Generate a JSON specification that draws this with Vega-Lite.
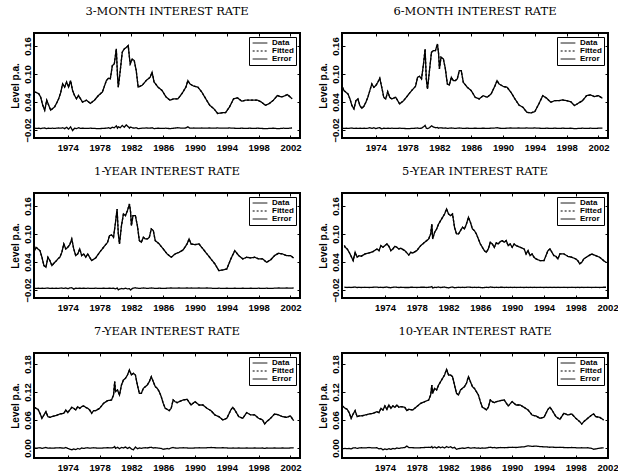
{
  "$schema": "https://vega.github.io/schema/vega-lite/v6.json",
  "padding": {"left": 9, "top": 5, "right": 4, "bottom": 2},
  "background": "white",
  "datasets": {
    "m3": [
      {"t":1969.85,"Data":0.0615,"Fitted":0.0615,"Error":-0.016},
      {"t":1970.1,"Data":0.060,"Fitted":0.060,"Error":-0.0165},
      {"t":1970.35,"Data":0.058,"Fitted":0.058,"Error":-0.016},
      {"t":1970.6,"Data":0.050,"Fitted":0.050,"Error":-0.017},
      {"t":1970.85,"Data":0.033,"Fitted":0.033,"Error":-0.016},
      {"t":1971.1,"Data":0.0225,"Fitted":0.0225,"Error":-0.0155},
      {"t":1971.35,"Data":0.044,"Fitted":0.044,"Error":-0.017},
      {"t":1971.6,"Data":0.033,"Fitted":0.033,"Error":-0.016},
      {"t":1971.85,"Data":0.0225,"Fitted":0.0225,"Error":-0.0165},
      {"t":1972.1,"Data":0.026,"Fitted":0.026,"Error":-0.016},
      {"t":1972.35,"Data":0.030,"Fitted":0.030,"Error":-0.0165},
      {"t":1972.6,"Data":0.038,"Fitted":0.038,"Error":-0.016},
      {"t":1972.85,"Data":0.047,"Fitted":0.047,"Error":-0.0155},
      {"t":1973.1,"Data":0.060,"Fitted":0.060,"Error":-0.016},
      {"t":1973.35,"Data":0.079,"Fitted":0.079,"Error":-0.015},
      {"t":1973.6,"Data":0.072,"Fitted":0.072,"Error":-0.017},
      {"t":1973.85,"Data":0.083,"Fitted":0.083,"Error":-0.014},
      {"t":1974.1,"Data":0.072,"Fitted":0.072,"Error":-0.018},
      {"t":1974.35,"Data":0.086,"Fitted":0.086,"Error":-0.013},
      {"t":1974.6,"Data":0.065,"Fitted":0.065,"Error":-0.021},
      {"t":1974.85,"Data":0.054,"Fitted":0.054,"Error":-0.016},
      {"t":1975.1,"Data":0.047,"Fitted":0.047,"Error":-0.017},
      {"t":1975.35,"Data":0.054,"Fitted":0.054,"Error":-0.015},
      {"t":1975.6,"Data":0.047,"Fitted":0.047,"Error":-0.0165},
      {"t":1975.85,"Data":0.040,"Fitted":0.040,"Error":-0.016},
      {"t":1976.35,"Data":0.044,"Fitted":0.044,"Error":-0.0165},
      {"t":1976.85,"Data":0.037,"Fitted":0.037,"Error":-0.016},
      {"t":1977.35,"Data":0.044,"Fitted":0.044,"Error":-0.0165},
      {"t":1977.85,"Data":0.054,"Fitted":0.054,"Error":-0.017},
      {"t":1978.35,"Data":0.0615,"Fitted":0.0615,"Error":-0.0165},
      {"t":1978.85,"Data":0.086,"Fitted":0.086,"Error":-0.016},
      {"t":1979.1,"Data":0.091,"Fitted":0.091,"Error":-0.015},
      {"t":1979.35,"Data":0.090,"Fitted":0.090,"Error":-0.0165},
      {"t":1979.6,"Data":0.118,"Fitted":0.118,"Error":-0.014},
      {"t":1979.85,"Data":0.122,"Fitted":0.122,"Error":-0.015},
      {"t":1980.1,"Data":0.154,"Fitted":0.154,"Error":-0.011},
      {"t":1980.25,"Data":0.097,"Fitted":0.097,"Error":-0.016},
      {"t":1980.35,"Data":0.072,"Fitted":0.072,"Error":-0.013},
      {"t":1980.6,"Data":0.108,"Fitted":0.108,"Error":-0.015},
      {"t":1980.85,"Data":0.147,"Fitted":0.147,"Error":-0.010},
      {"t":1981.1,"Data":0.154,"Fitted":0.154,"Error":-0.014},
      {"t":1981.35,"Data":0.157,"Fitted":0.157,"Error":-0.009},
      {"t":1981.6,"Data":0.161,"Fitted":0.161,"Error":-0.013},
      {"t":1981.75,"Data":0.136,"Fitted":0.136,"Error":-0.016},
      {"t":1981.85,"Data":0.122,"Fitted":0.122,"Error":-0.0135},
      {"t":1982.1,"Data":0.132,"Fitted":0.132,"Error":-0.015},
      {"t":1982.35,"Data":0.129,"Fitted":0.129,"Error":-0.016},
      {"t":1982.6,"Data":0.108,"Fitted":0.108,"Error":-0.015},
      {"t":1982.85,"Data":0.072,"Fitted":0.072,"Error":-0.017},
      {"t":1983.35,"Data":0.076,"Fitted":0.076,"Error":-0.016},
      {"t":1983.85,"Data":0.086,"Fitted":0.086,"Error":-0.0155},
      {"t":1984.35,"Data":0.093,"Fitted":0.093,"Error":-0.016},
      {"t":1984.6,"Data":0.104,"Fitted":0.104,"Error":-0.015},
      {"t":1984.85,"Data":0.083,"Fitted":0.083,"Error":-0.017},
      {"t":1985.35,"Data":0.072,"Fitted":0.072,"Error":-0.016},
      {"t":1985.85,"Data":0.065,"Fitted":0.065,"Error":-0.0165},
      {"t":1986.35,"Data":0.051,"Fitted":0.051,"Error":-0.016},
      {"t":1986.85,"Data":0.044,"Fitted":0.044,"Error":-0.017},
      {"t":1987.35,"Data":0.047,"Fitted":0.047,"Error":-0.016},
      {"t":1987.85,"Data":0.047,"Fitted":0.047,"Error":-0.015},
      {"t":1988.35,"Data":0.058,"Fitted":0.058,"Error":-0.016},
      {"t":1988.85,"Data":0.072,"Fitted":0.072,"Error":-0.0155},
      {"t":1989.1,"Data":0.086,"Fitted":0.086,"Error":-0.013},
      {"t":1989.35,"Data":0.079,"Fitted":0.079,"Error":-0.016},
      {"t":1989.85,"Data":0.074,"Fitted":0.074,"Error":-0.0155},
      {"t":1990.35,"Data":0.072,"Fitted":0.072,"Error":-0.016},
      {"t":1990.85,"Data":0.0615,"Fitted":0.0615,"Error":-0.0155},
      {"t":1991.35,"Data":0.047,"Fitted":0.047,"Error":-0.016},
      {"t":1991.85,"Data":0.033,"Fitted":0.033,"Error":-0.0155},
      {"t":1992.35,"Data":0.026,"Fitted":0.026,"Error":-0.016},
      {"t":1992.85,"Data":0.0155,"Fitted":0.0155,"Error":-0.0155},
      {"t":1993.35,"Data":0.017,"Fitted":0.017,"Error":-0.016},
      {"t":1993.85,"Data":0.0175,"Fitted":0.0175,"Error":-0.016},
      {"t":1994.35,"Data":0.030,"Fitted":0.030,"Error":-0.0155},
      {"t":1994.85,"Data":0.047,"Fitted":0.047,"Error":-0.016},
      {"t":1995.35,"Data":0.049,"Fitted":0.049,"Error":-0.0165},
      {"t":1995.85,"Data":0.042,"Fitted":0.042,"Error":-0.016},
      {"t":1996.35,"Data":0.044,"Fitted":0.044,"Error":-0.0165},
      {"t":1996.85,"Data":0.044,"Fitted":0.044,"Error":-0.016},
      {"t":1997.35,"Data":0.044,"Fitted":0.044,"Error":-0.0165},
      {"t":1997.85,"Data":0.044,"Fitted":0.044,"Error":-0.016},
      {"t":1998.35,"Data":0.040,"Fitted":0.040,"Error":-0.0165},
      {"t":1998.85,"Data":0.033,"Fitted":0.033,"Error":-0.017},
      {"t":1999.35,"Data":0.037,"Fitted":0.037,"Error":-0.0165},
      {"t":1999.85,"Data":0.044,"Fitted":0.044,"Error":-0.016},
      {"t":2000.35,"Data":0.054,"Fitted":0.054,"Error":-0.017},
      {"t":2000.85,"Data":0.051,"Fitted":0.051,"Error":-0.0165},
      {"t":2001.1,"Data":0.052,"Fitted":0.052,"Error":-0.016},
      {"t":2001.6,"Data":0.056,"Fitted":0.056,"Error":-0.0165},
      {"t":2001.9,"Data":0.052,"Fitted":0.052,"Error":-0.016},
      {"t":2002.2,"Data":0.047,"Fitted":0.047,"Error":-0.0155}
    ],
    "m6": [
      {"t":1969.8,"Data":0.072,"Fitted":0.072,"Error":-0.016},
      {"t":1970.0,"Data":0.0645,"Fitted":0.0645,"Error":-0.0165},
      {"t":1970.25,"Data":0.061,"Fitted":0.061,"Error":-0.016},
      {"t":1970.5,"Data":0.0574,"Fitted":0.0574,"Error":-0.0165},
      {"t":1970.75,"Data":0.0467,"Fitted":0.0467,"Error":-0.016},
      {"t":1971.0,"Data":0.0324,"Fitted":0.0324,"Error":-0.0155},
      {"t":1971.25,"Data":0.0253,"Fitted":0.0253,"Error":-0.0165},
      {"t":1971.5,"Data":0.043,"Fitted":0.043,"Error":-0.016},
      {"t":1971.75,"Data":0.0467,"Fitted":0.0467,"Error":-0.0165},
      {"t":1972.0,"Data":0.0324,"Fitted":0.0324,"Error":-0.016},
      {"t":1972.25,"Data":0.0267,"Fitted":0.0267,"Error":-0.0165},
      {"t":1972.5,"Data":0.031,"Fitted":0.031,"Error":-0.016},
      {"t":1972.75,"Data":0.0396,"Fitted":0.0396,"Error":-0.0165},
      {"t":1973.0,"Data":0.0503,"Fitted":0.0503,"Error":-0.016},
      {"t":1973.25,"Data":0.0645,"Fitted":0.0645,"Error":-0.015},
      {"t":1973.5,"Data":0.0788,"Fitted":0.0788,"Error":-0.0165},
      {"t":1973.75,"Data":0.0717,"Fitted":0.0717,"Error":-0.015},
      {"t":1974.0,"Data":0.0753,"Fitted":0.0753,"Error":-0.017},
      {"t":1974.25,"Data":0.0824,"Fitted":0.0824,"Error":-0.0155},
      {"t":1974.5,"Data":0.091,"Fitted":0.091,"Error":-0.015},
      {"t":1974.75,"Data":0.0717,"Fitted":0.0717,"Error":-0.0175},
      {"t":1975.0,"Data":0.0503,"Fitted":0.0503,"Error":-0.016},
      {"t":1975.25,"Data":0.0467,"Fitted":0.0467,"Error":-0.0165},
      {"t":1975.5,"Data":0.0624,"Fitted":0.0624,"Error":-0.016},
      {"t":1975.75,"Data":0.0503,"Fitted":0.0503,"Error":-0.0165},
      {"t":1976.0,"Data":0.0467,"Fitted":0.0467,"Error":-0.016},
      {"t":1976.5,"Data":0.0503,"Fitted":0.0503,"Error":-0.0165},
      {"t":1977.0,"Data":0.036,"Fitted":0.036,"Error":-0.016},
      {"t":1977.5,"Data":0.043,"Fitted":0.043,"Error":-0.0165},
      {"t":1978.0,"Data":0.0538,"Fitted":0.0538,"Error":-0.017},
      {"t":1978.5,"Data":0.0645,"Fitted":0.0645,"Error":-0.0165},
      {"t":1979.0,"Data":0.0738,"Fitted":0.0738,"Error":-0.016},
      {"t":1979.25,"Data":0.0931,"Fitted":0.0931,"Error":-0.0155},
      {"t":1979.5,"Data":0.0953,"Fitted":0.0953,"Error":-0.0165},
      {"t":1979.75,"Data":0.0896,"Fitted":0.0896,"Error":-0.016},
      {"t":1980.0,"Data":0.1217,"Fitted":0.1217,"Error":-0.013},
      {"t":1980.2,"Data":0.1538,"Fitted":0.1538,"Error":-0.010},
      {"t":1980.35,"Data":0.0896,"Fitted":0.0896,"Error":-0.016},
      {"t":1980.5,"Data":0.0681,"Fitted":0.0681,"Error":-0.017},
      {"t":1980.75,"Data":0.1074,"Fitted":0.1074,"Error":-0.015},
      {"t":1981.0,"Data":0.1467,"Fitted":0.1467,"Error":-0.011},
      {"t":1981.25,"Data":0.1502,"Fitted":0.1502,"Error":-0.0135},
      {"t":1981.5,"Data":0.1502,"Fitted":0.1502,"Error":-0.015},
      {"t":1981.75,"Data":0.1645,"Fitted":0.1645,"Error":-0.0145},
      {"t":1981.9,"Data":0.1431,"Fitted":0.1431,"Error":-0.016},
      {"t":1982.0,"Data":0.111,"Fitted":0.111,"Error":-0.0155},
      {"t":1982.2,"Data":0.136,"Fitted":0.136,"Error":-0.015},
      {"t":1982.5,"Data":0.1324,"Fitted":0.1324,"Error":-0.016},
      {"t":1982.75,"Data":0.111,"Fitted":0.111,"Error":-0.0155},
      {"t":1983.0,"Data":0.0788,"Fitted":0.0788,"Error":-0.0165},
      {"t":1983.25,"Data":0.0767,"Fitted":0.0767,"Error":-0.016},
      {"t":1983.5,"Data":0.0931,"Fitted":0.0931,"Error":-0.0155},
      {"t":1983.75,"Data":0.086,"Fitted":0.086,"Error":-0.016},
      {"t":1984.0,"Data":0.086,"Fitted":0.086,"Error":-0.0165},
      {"t":1984.25,"Data":0.0896,"Fitted":0.0896,"Error":-0.016},
      {"t":1984.5,"Data":0.1074,"Fitted":0.1074,"Error":-0.0155},
      {"t":1984.75,"Data":0.1074,"Fitted":0.1074,"Error":-0.016},
      {"t":1985.0,"Data":0.0824,"Fitted":0.0824,"Error":-0.0165},
      {"t":1985.5,"Data":0.0717,"Fitted":0.0717,"Error":-0.016},
      {"t":1986.0,"Data":0.0645,"Fitted":0.0645,"Error":-0.0165},
      {"t":1986.5,"Data":0.0503,"Fitted":0.0503,"Error":-0.016},
      {"t":1987.0,"Data":0.0467,"Fitted":0.0467,"Error":-0.0165},
      {"t":1987.5,"Data":0.0538,"Fitted":0.0538,"Error":-0.016},
      {"t":1988.0,"Data":0.0503,"Fitted":0.0503,"Error":-0.0165},
      {"t":1988.5,"Data":0.0574,"Fitted":0.0574,"Error":-0.016},
      {"t":1989.0,"Data":0.0753,"Fitted":0.0753,"Error":-0.0155},
      {"t":1989.25,"Data":0.086,"Fitted":0.086,"Error":-0.015},
      {"t":1989.5,"Data":0.0788,"Fitted":0.0788,"Error":-0.016},
      {"t":1990.0,"Data":0.0738,"Fitted":0.0738,"Error":-0.0165},
      {"t":1990.5,"Data":0.0717,"Fitted":0.0717,"Error":-0.016},
      {"t":1991.0,"Data":0.061,"Fitted":0.061,"Error":-0.0155},
      {"t":1991.5,"Data":0.0467,"Fitted":0.0467,"Error":-0.016},
      {"t":1992.0,"Data":0.0338,"Fitted":0.0338,"Error":-0.0155},
      {"t":1992.5,"Data":0.0289,"Fitted":0.0289,"Error":-0.016},
      {"t":1993.0,"Data":0.0181,"Fitted":0.0181,"Error":-0.0155},
      {"t":1993.5,"Data":0.0167,"Fitted":0.0167,"Error":-0.016},
      {"t":1994.0,"Data":0.0196,"Fitted":0.0196,"Error":-0.0155},
      {"t":1994.5,"Data":0.036,"Fitted":0.036,"Error":-0.016},
      {"t":1995.0,"Data":0.0538,"Fitted":0.0538,"Error":-0.0165},
      {"t":1995.5,"Data":0.0481,"Fitted":0.0481,"Error":-0.016},
      {"t":1996.0,"Data":0.0396,"Fitted":0.0396,"Error":-0.0165},
      {"t":1996.5,"Data":0.043,"Fitted":0.043,"Error":-0.016},
      {"t":1997.0,"Data":0.043,"Fitted":0.043,"Error":-0.0165},
      {"t":1997.5,"Data":0.0445,"Fitted":0.0445,"Error":-0.016},
      {"t":1998.0,"Data":0.043,"Fitted":0.043,"Error":-0.0165},
      {"t":1998.5,"Data":0.041,"Fitted":0.041,"Error":-0.016},
      {"t":1999.0,"Data":0.0324,"Fitted":0.0324,"Error":-0.017},
      {"t":1999.5,"Data":0.038,"Fitted":0.038,"Error":-0.0165},
      {"t":2000.0,"Data":0.043,"Fitted":0.043,"Error":-0.016},
      {"t":2000.5,"Data":0.0538,"Fitted":0.0538,"Error":-0.0165},
      {"t":2001.0,"Data":0.0553,"Fitted":0.0553,"Error":-0.016},
      {"t":2001.5,"Data":0.0517,"Fitted":0.0517,"Error":-0.0165},
      {"t":2002.0,"Data":0.0538,"Fitted":0.0538,"Error":-0.016},
      {"t":2002.5,"Data":0.0481,"Fitted":0.0481,"Error":-0.016}
    ],
    "y1": [
      {"t":1969.8,"Data":0.0645,"Fitted":0.0645,"Error":-0.016},
      {"t":1970.0,"Data":0.0717,"Fitted":0.0717,"Error":-0.0165},
      {"t":1970.25,"Data":0.0681,"Fitted":0.0681,"Error":-0.016},
      {"t":1970.5,"Data":0.0645,"Fitted":0.0645,"Error":-0.0165},
      {"t":1970.75,"Data":0.0503,"Fitted":0.0503,"Error":-0.016},
      {"t":1971.0,"Data":0.0324,"Fitted":0.0324,"Error":-0.0165},
      {"t":1971.25,"Data":0.0288,"Fitted":0.0288,"Error":-0.016},
      {"t":1971.5,"Data":0.0503,"Fitted":0.0503,"Error":-0.0155},
      {"t":1971.75,"Data":0.0431,"Fitted":0.0431,"Error":-0.0165},
      {"t":1972.0,"Data":0.0324,"Fitted":0.0324,"Error":-0.016},
      {"t":1972.25,"Data":0.0374,"Fitted":0.0374,"Error":-0.0165},
      {"t":1972.5,"Data":0.0417,"Fitted":0.0417,"Error":-0.016},
      {"t":1972.75,"Data":0.0467,"Fitted":0.0467,"Error":-0.0165},
      {"t":1973.0,"Data":0.0503,"Fitted":0.0503,"Error":-0.016},
      {"t":1973.25,"Data":0.061,"Fitted":0.061,"Error":-0.0155},
      {"t":1973.5,"Data":0.0788,"Fitted":0.0788,"Error":-0.0165},
      {"t":1973.75,"Data":0.0681,"Fitted":0.0681,"Error":-0.0155},
      {"t":1974.0,"Data":0.0717,"Fitted":0.0717,"Error":-0.017},
      {"t":1974.25,"Data":0.0774,"Fitted":0.0774,"Error":-0.0155},
      {"t":1974.5,"Data":0.0895,"Fitted":0.0895,"Error":-0.015},
      {"t":1974.75,"Data":0.0681,"Fitted":0.0681,"Error":-0.018},
      {"t":1975.0,"Data":0.0538,"Fitted":0.0538,"Error":-0.016},
      {"t":1975.25,"Data":0.0574,"Fitted":0.0574,"Error":-0.0165},
      {"t":1975.5,"Data":0.0681,"Fitted":0.0681,"Error":-0.016},
      {"t":1975.75,"Data":0.0538,"Fitted":0.0538,"Error":-0.0165},
      {"t":1976.0,"Data":0.0574,"Fitted":0.0574,"Error":-0.016},
      {"t":1976.25,"Data":0.0503,"Fitted":0.0503,"Error":-0.0165},
      {"t":1976.5,"Data":0.0574,"Fitted":0.0574,"Error":-0.016},
      {"t":1977.0,"Data":0.0431,"Fitted":0.0431,"Error":-0.0165},
      {"t":1977.5,"Data":0.0488,"Fitted":0.0488,"Error":-0.016},
      {"t":1978.0,"Data":0.061,"Fitted":0.061,"Error":-0.0165},
      {"t":1978.5,"Data":0.0717,"Fitted":0.0717,"Error":-0.016},
      {"t":1979.0,"Data":0.0824,"Fitted":0.0824,"Error":-0.0165},
      {"t":1979.25,"Data":0.0967,"Fitted":0.0967,"Error":-0.016},
      {"t":1979.5,"Data":0.0981,"Fitted":0.0981,"Error":-0.0165},
      {"t":1979.75,"Data":0.0931,"Fitted":0.0931,"Error":-0.016},
      {"t":1980.0,"Data":0.1252,"Fitted":0.1252,"Error":-0.0175},
      {"t":1980.2,"Data":0.1538,"Fitted":0.1538,"Error":-0.0155},
      {"t":1980.35,"Data":0.1002,"Fitted":0.1002,"Error":-0.0195},
      {"t":1980.5,"Data":0.0788,"Fitted":0.0788,"Error":-0.018},
      {"t":1980.75,"Data":0.1181,"Fitted":0.1181,"Error":-0.0165},
      {"t":1981.0,"Data":0.1431,"Fitted":0.1431,"Error":-0.0175},
      {"t":1981.25,"Data":0.1395,"Fitted":0.1395,"Error":-0.016},
      {"t":1981.5,"Data":0.1502,"Fitted":0.1502,"Error":-0.0175},
      {"t":1981.75,"Data":0.1645,"Fitted":0.1645,"Error":-0.017},
      {"t":1981.9,"Data":0.1466,"Fitted":0.1466,"Error":-0.020},
      {"t":1982.0,"Data":0.1181,"Fitted":0.1181,"Error":-0.018},
      {"t":1982.2,"Data":0.1395,"Fitted":0.1395,"Error":-0.016},
      {"t":1982.5,"Data":0.1395,"Fitted":0.1395,"Error":-0.015},
      {"t":1982.75,"Data":0.1181,"Fitted":0.1181,"Error":-0.016},
      {"t":1983.0,"Data":0.0859,"Fitted":0.0859,"Error":-0.0165},
      {"t":1983.25,"Data":0.0824,"Fitted":0.0824,"Error":-0.016},
      {"t":1983.5,"Data":0.0931,"Fitted":0.0931,"Error":-0.0155},
      {"t":1983.75,"Data":0.0895,"Fitted":0.0895,"Error":-0.016},
      {"t":1984.0,"Data":0.0895,"Fitted":0.0895,"Error":-0.0165},
      {"t":1984.25,"Data":0.0931,"Fitted":0.0931,"Error":-0.016},
      {"t":1984.5,"Data":0.111,"Fitted":0.111,"Error":-0.0155},
      {"t":1984.75,"Data":0.1074,"Fitted":0.1074,"Error":-0.016},
      {"t":1985.0,"Data":0.0859,"Fitted":0.0859,"Error":-0.0165},
      {"t":1985.5,"Data":0.0788,"Fitted":0.0788,"Error":-0.016},
      {"t":1986.0,"Data":0.0681,"Fitted":0.0681,"Error":-0.0165},
      {"t":1986.5,"Data":0.0574,"Fitted":0.0574,"Error":-0.016},
      {"t":1987.0,"Data":0.0503,"Fitted":0.0503,"Error":-0.0155},
      {"t":1987.5,"Data":0.0574,"Fitted":0.0574,"Error":-0.016},
      {"t":1988.0,"Data":0.061,"Fitted":0.061,"Error":-0.0155},
      {"t":1988.5,"Data":0.066,"Fitted":0.066,"Error":-0.016},
      {"t":1989.0,"Data":0.0788,"Fitted":0.0788,"Error":-0.0155},
      {"t":1989.25,"Data":0.0895,"Fitted":0.0895,"Error":-0.016},
      {"t":1989.5,"Data":0.0788,"Fitted":0.0788,"Error":-0.0155},
      {"t":1990.0,"Data":0.0774,"Fitted":0.0774,"Error":-0.016},
      {"t":1990.5,"Data":0.0788,"Fitted":0.0788,"Error":-0.0155},
      {"t":1991.0,"Data":0.0681,"Fitted":0.0681,"Error":-0.016},
      {"t":1991.5,"Data":0.0574,"Fitted":0.0574,"Error":-0.0155},
      {"t":1992.0,"Data":0.0467,"Fitted":0.0467,"Error":-0.016},
      {"t":1992.5,"Data":0.036,"Fitted":0.036,"Error":-0.0165},
      {"t":1993.0,"Data":0.0217,"Fitted":0.0217,"Error":-0.016},
      {"t":1993.5,"Data":0.0231,"Fitted":0.0231,"Error":-0.0165},
      {"t":1994.0,"Data":0.0253,"Fitted":0.0253,"Error":-0.016},
      {"t":1994.5,"Data":0.0467,"Fitted":0.0467,"Error":-0.0165},
      {"t":1995.0,"Data":0.0645,"Fitted":0.0645,"Error":-0.016},
      {"t":1995.5,"Data":0.0538,"Fitted":0.0538,"Error":-0.0165},
      {"t":1996.0,"Data":0.0467,"Fitted":0.0467,"Error":-0.016},
      {"t":1996.5,"Data":0.0503,"Fitted":0.0503,"Error":-0.0165},
      {"t":1997.0,"Data":0.0488,"Fitted":0.0488,"Error":-0.016},
      {"t":1997.5,"Data":0.0503,"Fitted":0.0503,"Error":-0.0165},
      {"t":1998.0,"Data":0.0467,"Fitted":0.0467,"Error":-0.016},
      {"t":1998.5,"Data":0.0467,"Fitted":0.0467,"Error":-0.0165},
      {"t":1999.0,"Data":0.0396,"Fitted":0.0396,"Error":-0.016},
      {"t":1999.5,"Data":0.0446,"Fitted":0.0446,"Error":-0.0165},
      {"t":2000.0,"Data":0.0538,"Fitted":0.0538,"Error":-0.016},
      {"t":2000.5,"Data":0.0588,"Fitted":0.0588,"Error":-0.0155},
      {"t":2001.0,"Data":0.0574,"Fitted":0.0574,"Error":-0.016},
      {"t":2001.5,"Data":0.0538,"Fitted":0.0538,"Error":-0.0155},
      {"t":2002.0,"Data":0.0538,"Fitted":0.0538,"Error":-0.016},
      {"t":2002.4,"Data":0.0488,"Fitted":0.0488,"Error":-0.0155}
    ],
    "y5": [
      {"t":1968.9,"Data":0.0753,"Fitted":0.0753,"Error":-0.014},
      {"t":1969.0,"Data":0.0717,"Fitted":0.0717,"Error":-0.014},
      {"t":1969.25,"Data":0.0681,"Fitted":0.0681,"Error":-0.0145},
      {"t":1969.5,"Data":0.061,"Fitted":0.061,"Error":-0.014},
      {"t":1969.75,"Data":0.0524,"Fitted":0.0524,"Error":-0.0145},
      {"t":1970.0,"Data":0.0431,"Fitted":0.0431,"Error":-0.014},
      {"t":1970.25,"Data":0.061,"Fitted":0.061,"Error":-0.0135},
      {"t":1970.5,"Data":0.0503,"Fitted":0.0503,"Error":-0.0145},
      {"t":1970.75,"Data":0.0538,"Fitted":0.0538,"Error":-0.014},
      {"t":1971.0,"Data":0.0524,"Fitted":0.0524,"Error":-0.0145},
      {"t":1971.5,"Data":0.0574,"Fitted":0.0574,"Error":-0.014},
      {"t":1972.0,"Data":0.0595,"Fitted":0.0595,"Error":-0.0145},
      {"t":1972.5,"Data":0.0624,"Fitted":0.0624,"Error":-0.014},
      {"t":1973.0,"Data":0.0681,"Fitted":0.0681,"Error":-0.0135},
      {"t":1973.25,"Data":0.0645,"Fitted":0.0645,"Error":-0.0145},
      {"t":1973.5,"Data":0.0753,"Fitted":0.0753,"Error":-0.014},
      {"t":1973.75,"Data":0.0717,"Fitted":0.0717,"Error":-0.0145},
      {"t":1974.0,"Data":0.0753,"Fitted":0.0753,"Error":-0.014},
      {"t":1974.25,"Data":0.0788,"Fitted":0.0788,"Error":-0.0135},
      {"t":1974.5,"Data":0.0738,"Fitted":0.0738,"Error":-0.0145},
      {"t":1974.75,"Data":0.0645,"Fitted":0.0645,"Error":-0.015},
      {"t":1975.0,"Data":0.0681,"Fitted":0.0681,"Error":-0.014},
      {"t":1975.25,"Data":0.0738,"Fitted":0.0738,"Error":-0.0135},
      {"t":1975.5,"Data":0.0717,"Fitted":0.0717,"Error":-0.014},
      {"t":1975.75,"Data":0.0681,"Fitted":0.0681,"Error":-0.0145},
      {"t":1976.0,"Data":0.0695,"Fitted":0.0695,"Error":-0.014},
      {"t":1976.5,"Data":0.0645,"Fitted":0.0645,"Error":-0.0145},
      {"t":1977.0,"Data":0.0552,"Fitted":0.0552,"Error":-0.0145},
      {"t":1977.25,"Data":0.061,"Fitted":0.061,"Error":-0.014},
      {"t":1977.5,"Data":0.0595,"Fitted":0.0595,"Error":-0.014},
      {"t":1978.0,"Data":0.0645,"Fitted":0.0645,"Error":-0.0145},
      {"t":1978.5,"Data":0.0753,"Fitted":0.0753,"Error":-0.014},
      {"t":1979.0,"Data":0.0824,"Fitted":0.0824,"Error":-0.014},
      {"t":1979.25,"Data":0.0859,"Fitted":0.0859,"Error":-0.0145},
      {"t":1979.5,"Data":0.0895,"Fitted":0.0895,"Error":-0.014},
      {"t":1979.75,"Data":0.1002,"Fitted":0.1002,"Error":-0.0135},
      {"t":1979.9,"Data":0.1216,"Fitted":0.1216,"Error":-0.0125},
      {"t":1980.0,"Data":0.0895,"Fitted":0.0895,"Error":-0.0155},
      {"t":1980.25,"Data":0.1038,"Fitted":0.1038,"Error":-0.014},
      {"t":1980.5,"Data":0.1109,"Fitted":0.1109,"Error":-0.0145},
      {"t":1980.75,"Data":0.1216,"Fitted":0.1216,"Error":-0.0135},
      {"t":1981.0,"Data":0.1288,"Fitted":0.1288,"Error":-0.0145},
      {"t":1981.25,"Data":0.1359,"Fitted":0.1359,"Error":-0.014},
      {"t":1981.5,"Data":0.143,"Fitted":0.143,"Error":-0.0135},
      {"t":1981.75,"Data":0.1538,"Fitted":0.1538,"Error":-0.0145},
      {"t":1982.0,"Data":0.143,"Fitted":0.143,"Error":-0.0155},
      {"t":1982.25,"Data":0.1395,"Fitted":0.1395,"Error":-0.014},
      {"t":1982.5,"Data":0.143,"Fitted":0.143,"Error":-0.0135},
      {"t":1982.75,"Data":0.1145,"Fitted":0.1145,"Error":-0.015},
      {"t":1983.0,"Data":0.1002,"Fitted":0.1002,"Error":-0.0145},
      {"t":1983.25,"Data":0.1002,"Fitted":0.1002,"Error":-0.014},
      {"t":1983.5,"Data":0.1074,"Fitted":0.1074,"Error":-0.0145},
      {"t":1983.75,"Data":0.1145,"Fitted":0.1145,"Error":-0.014},
      {"t":1984.0,"Data":0.1109,"Fitted":0.1109,"Error":-0.0145},
      {"t":1984.25,"Data":0.1216,"Fitted":0.1216,"Error":-0.014},
      {"t":1984.5,"Data":0.1359,"Fitted":0.1359,"Error":-0.0135},
      {"t":1984.75,"Data":0.1252,"Fitted":0.1252,"Error":-0.014},
      {"t":1985.0,"Data":0.1109,"Fitted":0.1109,"Error":-0.0145},
      {"t":1985.25,"Data":0.1074,"Fitted":0.1074,"Error":-0.014},
      {"t":1985.5,"Data":0.1002,"Fitted":0.1002,"Error":-0.0145},
      {"t":1985.75,"Data":0.0895,"Fitted":0.0895,"Error":-0.014},
      {"t":1986.0,"Data":0.0788,"Fitted":0.0788,"Error":-0.0145},
      {"t":1986.25,"Data":0.0717,"Fitted":0.0717,"Error":-0.015},
      {"t":1986.5,"Data":0.0645,"Fitted":0.0645,"Error":-0.0145},
      {"t":1986.75,"Data":0.061,"Fitted":0.061,"Error":-0.014},
      {"t":1987.0,"Data":0.0681,"Fitted":0.0681,"Error":-0.0145},
      {"t":1987.25,"Data":0.0824,"Fitted":0.0824,"Error":-0.0135},
      {"t":1987.5,"Data":0.0788,"Fitted":0.0788,"Error":-0.014},
      {"t":1987.75,"Data":0.0717,"Fitted":0.0717,"Error":-0.0145},
      {"t":1988.0,"Data":0.081,"Fitted":0.081,"Error":-0.014},
      {"t":1988.25,"Data":0.0788,"Fitted":0.0788,"Error":-0.0145},
      {"t":1988.5,"Data":0.0838,"Fitted":0.0838,"Error":-0.014},
      {"t":1988.75,"Data":0.0859,"Fitted":0.0859,"Error":-0.014},
      {"t":1989.0,"Data":0.0824,"Fitted":0.0824,"Error":-0.0145},
      {"t":1989.25,"Data":0.0859,"Fitted":0.0859,"Error":-0.014},
      {"t":1989.5,"Data":0.0753,"Fitted":0.0753,"Error":-0.0145},
      {"t":1989.75,"Data":0.0788,"Fitted":0.0788,"Error":-0.014},
      {"t":1990.0,"Data":0.0717,"Fitted":0.0717,"Error":-0.0145},
      {"t":1990.25,"Data":0.0788,"Fitted":0.0788,"Error":-0.014},
      {"t":1990.5,"Data":0.0753,"Fitted":0.0753,"Error":-0.0145},
      {"t":1991.0,"Data":0.0717,"Fitted":0.0717,"Error":-0.014},
      {"t":1991.5,"Data":0.0681,"Fitted":0.0681,"Error":-0.0145},
      {"t":1991.75,"Data":0.0574,"Fitted":0.0574,"Error":-0.014},
      {"t":1992.0,"Data":0.0645,"Fitted":0.0645,"Error":-0.0145},
      {"t":1992.25,"Data":0.0538,"Fitted":0.0538,"Error":-0.014},
      {"t":1992.5,"Data":0.0574,"Fitted":0.0574,"Error":-0.0145},
      {"t":1992.75,"Data":0.0503,"Fitted":0.0503,"Error":-0.014},
      {"t":1993.0,"Data":0.0467,"Fitted":0.0467,"Error":-0.0145},
      {"t":1993.5,"Data":0.0431,"Fitted":0.0431,"Error":-0.014},
      {"t":1994.0,"Data":0.0431,"Fitted":0.0431,"Error":-0.0145},
      {"t":1994.25,"Data":0.0538,"Fitted":0.0538,"Error":-0.014},
      {"t":1994.5,"Data":0.0645,"Fitted":0.0645,"Error":-0.0145},
      {"t":1994.75,"Data":0.0681,"Fitted":0.0681,"Error":-0.014},
      {"t":1995.0,"Data":0.061,"Fitted":0.061,"Error":-0.0145},
      {"t":1995.25,"Data":0.0538,"Fitted":0.0538,"Error":-0.014},
      {"t":1995.5,"Data":0.0524,"Fitted":0.0524,"Error":-0.0145},
      {"t":1995.75,"Data":0.0467,"Fitted":0.0467,"Error":-0.014},
      {"t":1996.0,"Data":0.0574,"Fitted":0.0574,"Error":-0.0145},
      {"t":1996.5,"Data":0.0574,"Fitted":0.0574,"Error":-0.014},
      {"t":1997.0,"Data":0.0524,"Fitted":0.0524,"Error":-0.0145},
      {"t":1997.5,"Data":0.0503,"Fitted":0.0503,"Error":-0.014},
      {"t":1998.0,"Data":0.0467,"Fitted":0.0467,"Error":-0.0145},
      {"t":1998.25,"Data":0.0431,"Fitted":0.0431,"Error":-0.014},
      {"t":1998.5,"Data":0.036,"Fitted":0.036,"Error":-0.0145},
      {"t":1998.75,"Data":0.0395,"Fitted":0.0395,"Error":-0.014},
      {"t":1999.0,"Data":0.0467,"Fitted":0.0467,"Error":-0.0145},
      {"t":1999.5,"Data":0.0524,"Fitted":0.0524,"Error":-0.014},
      {"t":2000.0,"Data":0.0574,"Fitted":0.0574,"Error":-0.0145},
      {"t":2000.5,"Data":0.0538,"Fitted":0.0538,"Error":-0.014},
      {"t":2001.0,"Data":0.0503,"Fitted":0.0503,"Error":-0.0145},
      {"t":2001.5,"Data":0.0431,"Fitted":0.0431,"Error":-0.014},
      {"t":2001.8,"Data":0.0395,"Fitted":0.0395,"Error":-0.014}
    ],
    "y7": [
      {"t":1969.8,"Data":0.0871,"Fitted":0.0871,"Error":0.0},
      {"t":1970.0,"Data":0.085,"Fitted":0.085,"Error":-0.0005},
      {"t":1970.25,"Data":0.0829,"Fitted":0.0829,"Error":0.0},
      {"t":1970.5,"Data":0.0743,"Fitted":0.0743,"Error":0.0005},
      {"t":1970.75,"Data":0.0636,"Fitted":0.0636,"Error":-0.001},
      {"t":1971.0,"Data":0.0707,"Fitted":0.0707,"Error":0.0},
      {"t":1971.25,"Data":0.0778,"Fitted":0.0778,"Error":0.001},
      {"t":1971.5,"Data":0.0671,"Fitted":0.0671,"Error":-0.0005},
      {"t":1971.75,"Data":0.0657,"Fitted":0.0657,"Error":0.0},
      {"t":1972.0,"Data":0.0671,"Fitted":0.0671,"Error":-0.0005},
      {"t":1972.5,"Data":0.0693,"Fitted":0.0693,"Error":0.0},
      {"t":1973.0,"Data":0.0728,"Fitted":0.0728,"Error":0.0005},
      {"t":1973.5,"Data":0.0743,"Fitted":0.0743,"Error":-0.0005},
      {"t":1973.75,"Data":0.0814,"Fitted":0.0814,"Error":0.001},
      {"t":1974.0,"Data":0.0757,"Fitted":0.0757,"Error":-0.001},
      {"t":1974.5,"Data":0.0871,"Fitted":0.0871,"Error":-0.004},
      {"t":1974.75,"Data":0.085,"Fitted":0.085,"Error":-0.002},
      {"t":1975.0,"Data":0.0814,"Fitted":0.0814,"Error":-0.0035},
      {"t":1975.25,"Data":0.0886,"Fitted":0.0886,"Error":-0.001},
      {"t":1975.5,"Data":0.085,"Fitted":0.085,"Error":-0.0025},
      {"t":1975.75,"Data":0.0886,"Fitted":0.0886,"Error":0.0},
      {"t":1976.0,"Data":0.09,"Fitted":0.09,"Error":-0.001},
      {"t":1976.25,"Data":0.0871,"Fitted":0.0871,"Error":0.0},
      {"t":1976.5,"Data":0.085,"Fitted":0.085,"Error":0.0005},
      {"t":1976.75,"Data":0.0814,"Fitted":0.0814,"Error":-0.0005},
      {"t":1977.0,"Data":0.0743,"Fitted":0.0743,"Error":0.0},
      {"t":1977.25,"Data":0.08,"Fitted":0.08,"Error":0.0005},
      {"t":1977.5,"Data":0.08,"Fitted":0.08,"Error":0.0},
      {"t":1978.0,"Data":0.085,"Fitted":0.085,"Error":-0.0005},
      {"t":1978.5,"Data":0.0957,"Fitted":0.0957,"Error":0.0},
      {"t":1979.0,"Data":0.1014,"Fitted":0.1014,"Error":0.0005},
      {"t":1979.5,"Data":0.1028,"Fitted":0.1028,"Error":0.0},
      {"t":1979.75,"Data":0.1135,"Fitted":0.1135,"Error":0.001},
      {"t":1979.9,"Data":0.1421,"Fitted":0.1421,"Error":0.003},
      {"t":1980.0,"Data":0.1207,"Fitted":0.1207,"Error":-0.001},
      {"t":1980.25,"Data":0.1243,"Fitted":0.1243,"Error":0.0015},
      {"t":1980.5,"Data":0.1135,"Fitted":0.1135,"Error":-0.0015},
      {"t":1980.75,"Data":0.1349,"Fitted":0.1349,"Error":0.001},
      {"t":1981.0,"Data":0.1457,"Fitted":0.1457,"Error":0.0},
      {"t":1981.25,"Data":0.1493,"Fitted":0.1493,"Error":0.002},
      {"t":1981.5,"Data":0.1564,"Fitted":0.1564,"Error":-0.001},
      {"t":1981.75,"Data":0.1671,"Fitted":0.1671,"Error":0.0015},
      {"t":1982.0,"Data":0.1564,"Fitted":0.1564,"Error":-0.002},
      {"t":1982.25,"Data":0.16,"Fitted":0.16,"Error":-0.004},
      {"t":1982.5,"Data":0.1564,"Fitted":0.1564,"Error":0.002},
      {"t":1982.75,"Data":0.1349,"Fitted":0.1349,"Error":-0.0015},
      {"t":1983.0,"Data":0.1171,"Fitted":0.1171,"Error":0.0},
      {"t":1983.25,"Data":0.1171,"Fitted":0.1171,"Error":-0.001},
      {"t":1983.5,"Data":0.1278,"Fitted":0.1278,"Error":0.0},
      {"t":1983.75,"Data":0.1314,"Fitted":0.1314,"Error":0.0005},
      {"t":1984.0,"Data":0.1349,"Fitted":0.1349,"Error":0.0},
      {"t":1984.25,"Data":0.1421,"Fitted":0.1421,"Error":0.001},
      {"t":1984.5,"Data":0.1528,"Fitted":0.1528,"Error":0.0015},
      {"t":1984.75,"Data":0.1421,"Fitted":0.1421,"Error":0.0},
      {"t":1985.0,"Data":0.1314,"Fitted":0.1314,"Error":0.0005},
      {"t":1985.25,"Data":0.1278,"Fitted":0.1278,"Error":0.0},
      {"t":1985.5,"Data":0.1207,"Fitted":0.1207,"Error":-0.0005},
      {"t":1985.75,"Data":0.1099,"Fitted":0.1099,"Error":-0.001},
      {"t":1986.0,"Data":0.0957,"Fitted":0.0957,"Error":-0.003},
      {"t":1986.25,"Data":0.085,"Fitted":0.085,"Error":-0.002},
      {"t":1986.5,"Data":0.0829,"Fitted":0.0829,"Error":-0.001},
      {"t":1986.75,"Data":0.08,"Fitted":0.08,"Error":-0.002},
      {"t":1987.0,"Data":0.085,"Fitted":0.085,"Error":0.0},
      {"t":1987.25,"Data":0.1028,"Fitted":0.1028,"Error":0.001},
      {"t":1987.5,"Data":0.0992,"Fitted":0.0992,"Error":0.0},
      {"t":1987.75,"Data":0.0971,"Fitted":0.0971,"Error":-0.0005},
      {"t":1988.0,"Data":0.0992,"Fitted":0.0992,"Error":0.0},
      {"t":1988.5,"Data":0.1028,"Fitted":0.1028,"Error":0.0005},
      {"t":1989.0,"Data":0.1043,"Fitted":0.1043,"Error":0.0},
      {"t":1989.5,"Data":0.0921,"Fitted":0.0921,"Error":-0.0005},
      {"t":1990.0,"Data":0.0992,"Fitted":0.0992,"Error":0.0},
      {"t":1990.5,"Data":0.0921,"Fitted":0.0921,"Error":0.0005},
      {"t":1991.0,"Data":0.0921,"Fitted":0.0921,"Error":0.0},
      {"t":1991.5,"Data":0.085,"Fitted":0.085,"Error":0.0005},
      {"t":1992.0,"Data":0.08,"Fitted":0.08,"Error":0.001},
      {"t":1992.5,"Data":0.0707,"Fitted":0.0707,"Error":0.0005},
      {"t":1993.0,"Data":0.0671,"Fitted":0.0671,"Error":0.0},
      {"t":1993.5,"Data":0.06,"Fitted":0.06,"Error":0.0005},
      {"t":1994.0,"Data":0.0636,"Fitted":0.0636,"Error":0.0},
      {"t":1994.5,"Data":0.0814,"Fitted":0.0814,"Error":-0.0005},
      {"t":1994.75,"Data":0.0871,"Fitted":0.0871,"Error":0.0},
      {"t":1995.0,"Data":0.0814,"Fitted":0.0814,"Error":-0.0005},
      {"t":1995.5,"Data":0.0671,"Fitted":0.0671,"Error":0.0},
      {"t":1996.0,"Data":0.0636,"Fitted":0.0636,"Error":-0.0005},
      {"t":1996.5,"Data":0.0757,"Fitted":0.0757,"Error":0.0},
      {"t":1997.0,"Data":0.0707,"Fitted":0.0707,"Error":-0.0005},
      {"t":1997.5,"Data":0.0707,"Fitted":0.0707,"Error":0.0},
      {"t":1998.0,"Data":0.0636,"Fitted":0.0636,"Error":-0.0005},
      {"t":1998.5,"Data":0.06,"Fitted":0.06,"Error":0.0},
      {"t":1998.75,"Data":0.0514,"Fitted":0.0514,"Error":-0.001},
      {"t":1999.0,"Data":0.0564,"Fitted":0.0564,"Error":0.0},
      {"t":1999.5,"Data":0.0636,"Fitted":0.0636,"Error":-0.0005},
      {"t":2000.0,"Data":0.0728,"Fitted":0.0728,"Error":0.0},
      {"t":2000.5,"Data":0.0707,"Fitted":0.0707,"Error":-0.0005},
      {"t":2001.0,"Data":0.0671,"Fitted":0.0671,"Error":0.0},
      {"t":2001.5,"Data":0.0657,"Fitted":0.0657,"Error":-0.0005},
      {"t":2002.0,"Data":0.0686,"Fitted":0.0686,"Error":0.0},
      {"t":2002.4,"Data":0.0586,"Fitted":0.0586,"Error":0.0005}
    ],
    "y10": [
      {"t":1968.6,"Data":0.0871,"Fitted":0.0871,"Error":-0.001},
      {"t":1968.75,"Data":0.0886,"Fitted":0.0886,"Error":-0.0015},
      {"t":1969.0,"Data":0.085,"Fitted":0.085,"Error":-0.001},
      {"t":1969.25,"Data":0.0829,"Fitted":0.0829,"Error":-0.0015},
      {"t":1969.5,"Data":0.0757,"Fitted":0.0757,"Error":-0.001},
      {"t":1969.75,"Data":0.0636,"Fitted":0.0636,"Error":-0.002},
      {"t":1970.0,"Data":0.0728,"Fitted":0.0728,"Error":0.0},
      {"t":1970.25,"Data":0.08,"Fitted":0.08,"Error":0.0005},
      {"t":1970.5,"Data":0.0671,"Fitted":0.0671,"Error":-0.001},
      {"t":1970.75,"Data":0.0686,"Fitted":0.0686,"Error":0.0},
      {"t":1971.0,"Data":0.0686,"Fitted":0.0686,"Error":0.0005},
      {"t":1971.5,"Data":0.0707,"Fitted":0.0707,"Error":0.0},
      {"t":1972.0,"Data":0.0728,"Fitted":0.0728,"Error":0.001},
      {"t":1972.5,"Data":0.0743,"Fitted":0.0743,"Error":0.0},
      {"t":1973.0,"Data":0.0778,"Fitted":0.0778,"Error":0.0005},
      {"t":1973.25,"Data":0.0757,"Fitted":0.0757,"Error":-0.002},
      {"t":1973.5,"Data":0.085,"Fitted":0.085,"Error":-0.001},
      {"t":1973.75,"Data":0.0814,"Fitted":0.0814,"Error":-0.004},
      {"t":1974.0,"Data":0.09,"Fitted":0.09,"Error":-0.002},
      {"t":1974.25,"Data":0.0829,"Fitted":0.0829,"Error":-0.0035},
      {"t":1974.5,"Data":0.0921,"Fitted":0.0921,"Error":-0.0015},
      {"t":1974.75,"Data":0.085,"Fitted":0.085,"Error":-0.003},
      {"t":1975.0,"Data":0.09,"Fitted":0.09,"Error":-0.001},
      {"t":1975.25,"Data":0.0871,"Fitted":0.0871,"Error":-0.002},
      {"t":1975.5,"Data":0.0921,"Fitted":0.0921,"Error":0.0},
      {"t":1975.75,"Data":0.0871,"Fitted":0.0871,"Error":-0.001},
      {"t":1976.0,"Data":0.0886,"Fitted":0.0886,"Error":0.0},
      {"t":1976.5,"Data":0.0871,"Fitted":0.0871,"Error":0.001},
      {"t":1976.75,"Data":0.08,"Fitted":0.08,"Error":0.004},
      {"t":1977.0,"Data":0.0829,"Fitted":0.0829,"Error":0.001},
      {"t":1977.5,"Data":0.0814,"Fitted":0.0814,"Error":0.0005},
      {"t":1978.0,"Data":0.0886,"Fitted":0.0886,"Error":0.0},
      {"t":1978.5,"Data":0.0957,"Fitted":0.0957,"Error":0.0005},
      {"t":1979.0,"Data":0.0992,"Fitted":0.0992,"Error":0.001},
      {"t":1979.5,"Data":0.1028,"Fitted":0.1028,"Error":0.0015},
      {"t":1979.75,"Data":0.1135,"Fitted":0.1135,"Error":0.001},
      {"t":1979.9,"Data":0.1349,"Fitted":0.1349,"Error":0.003},
      {"t":1980.0,"Data":0.1171,"Fitted":0.1171,"Error":0.0},
      {"t":1980.25,"Data":0.1278,"Fitted":0.1278,"Error":0.002},
      {"t":1980.5,"Data":0.1243,"Fitted":0.1243,"Error":0.0},
      {"t":1980.75,"Data":0.1349,"Fitted":0.1349,"Error":0.0025},
      {"t":1981.0,"Data":0.1421,"Fitted":0.1421,"Error":0.0005},
      {"t":1981.25,"Data":0.1493,"Fitted":0.1493,"Error":0.002},
      {"t":1981.5,"Data":0.1564,"Fitted":0.1564,"Error":0.0},
      {"t":1981.75,"Data":0.1685,"Fitted":0.1685,"Error":0.003},
      {"t":1982.0,"Data":0.1564,"Fitted":0.1564,"Error":0.001},
      {"t":1982.25,"Data":0.1564,"Fitted":0.1564,"Error":0.0025},
      {"t":1982.5,"Data":0.1528,"Fitted":0.1528,"Error":0.0},
      {"t":1982.75,"Data":0.1349,"Fitted":0.1349,"Error":0.0015},
      {"t":1983.0,"Data":0.1171,"Fitted":0.1171,"Error":-0.003},
      {"t":1983.25,"Data":0.1135,"Fitted":0.1135,"Error":-0.0015},
      {"t":1983.5,"Data":0.1243,"Fitted":0.1243,"Error":-0.001},
      {"t":1983.75,"Data":0.1278,"Fitted":0.1278,"Error":0.0},
      {"t":1984.0,"Data":0.1314,"Fitted":0.1314,"Error":-0.001},
      {"t":1984.25,"Data":0.1385,"Fitted":0.1385,"Error":0.0},
      {"t":1984.5,"Data":0.1528,"Fitted":0.1528,"Error":0.001},
      {"t":1984.75,"Data":0.1421,"Fitted":0.1421,"Error":-0.0005},
      {"t":1985.0,"Data":0.1314,"Fitted":0.1314,"Error":0.0},
      {"t":1985.25,"Data":0.1278,"Fitted":0.1278,"Error":0.0005},
      {"t":1985.5,"Data":0.1207,"Fitted":0.1207,"Error":-0.0005},
      {"t":1985.75,"Data":0.1135,"Fitted":0.1135,"Error":0.0},
      {"t":1986.0,"Data":0.0992,"Fitted":0.0992,"Error":-0.001},
      {"t":1986.25,"Data":0.0871,"Fitted":0.0871,"Error":0.0},
      {"t":1986.5,"Data":0.085,"Fitted":0.085,"Error":-0.0005},
      {"t":1986.75,"Data":0.0814,"Fitted":0.0814,"Error":0.0},
      {"t":1987.0,"Data":0.0871,"Fitted":0.0871,"Error":0.001},
      {"t":1987.25,"Data":0.1028,"Fitted":0.1028,"Error":0.0015},
      {"t":1987.5,"Data":0.0992,"Fitted":0.0992,"Error":0.0005},
      {"t":1987.75,"Data":0.0971,"Fitted":0.0971,"Error":0.001},
      {"t":1988.0,"Data":0.0992,"Fitted":0.0992,"Error":0.0},
      {"t":1988.5,"Data":0.1014,"Fitted":0.1014,"Error":0.001},
      {"t":1989.0,"Data":0.1028,"Fitted":0.1028,"Error":0.0005},
      {"t":1989.5,"Data":0.09,"Fitted":0.09,"Error":0.001},
      {"t":1990.0,"Data":0.0992,"Fitted":0.0992,"Error":0.0015},
      {"t":1990.5,"Data":0.0921,"Fitted":0.0921,"Error":0.001},
      {"t":1991.0,"Data":0.0921,"Fitted":0.0921,"Error":0.002},
      {"t":1991.5,"Data":0.0871,"Fitted":0.0871,"Error":0.0025},
      {"t":1992.0,"Data":0.0814,"Fitted":0.0814,"Error":0.0045},
      {"t":1992.5,"Data":0.0707,"Fitted":0.0707,"Error":0.0035},
      {"t":1993.0,"Data":0.0686,"Fitted":0.0686,"Error":0.004},
      {"t":1993.5,"Data":0.0636,"Fitted":0.0636,"Error":0.003},
      {"t":1994.0,"Data":0.0657,"Fitted":0.0657,"Error":0.0025},
      {"t":1994.5,"Data":0.0829,"Fitted":0.0829,"Error":0.002},
      {"t":1994.75,"Data":0.0871,"Fitted":0.0871,"Error":0.0015},
      {"t":1995.0,"Data":0.0814,"Fitted":0.0814,"Error":0.002},
      {"t":1995.5,"Data":0.0671,"Fitted":0.0671,"Error":0.001},
      {"t":1996.0,"Data":0.0614,"Fitted":0.0614,"Error":0.0015},
      {"t":1996.5,"Data":0.0743,"Fitted":0.0743,"Error":0.001},
      {"t":1997.0,"Data":0.0707,"Fitted":0.0707,"Error":0.0005},
      {"t":1997.5,"Data":0.0728,"Fitted":0.0728,"Error":0.001},
      {"t":1998.0,"Data":0.0636,"Fitted":0.0636,"Error":0.0005},
      {"t":1998.5,"Data":0.0564,"Fitted":0.0564,"Error":0.0},
      {"t":1998.75,"Data":0.0514,"Fitted":0.0514,"Error":0.0005},
      {"t":1999.0,"Data":0.0564,"Fitted":0.0564,"Error":0.0},
      {"t":1999.5,"Data":0.0636,"Fitted":0.0636,"Error":0.0005},
      {"t":2000.0,"Data":0.0707,"Fitted":0.0707,"Error":-0.001},
      {"t":2000.25,"Data":0.0728,"Fitted":0.0728,"Error":-0.003},
      {"t":2000.5,"Data":0.0671,"Fitted":0.0671,"Error":-0.002},
      {"t":2001.0,"Data":0.0657,"Fitted":0.0657,"Error":-0.0005},
      {"t":2001.5,"Data":0.06,"Fitted":0.06,"Error":0.0005}
    ]
  },
  "columns": 2,
  "spacing": {"row": 12, "column": 14},
  "resolve": {
    "scale": {"strokeDash": "independent"},
    "legend": {"strokeDash": "independent"}
  },
  "concat": [
    {
      "title": "3-MONTH INTEREST RATE",
      "width": 266, "height": 105,
      "data": {"name": "m3"},
      "transform": [{"fold": ["Data", "Fitted", "Error"], "as": ["series", "value"]}],
      "layer": [
        {
          "mark": {"type": "line", "color": "black", "strokeWidth": 1.3, "clip": true},
          "encoding": {
            "x": {"field": "t", "type": "quantitative", "scale": {"domain": [1969.75, 2003.2], "nice": false, "zero": false}, "axis": {"values": [1974, 1978, 1982, 1986, 1990, 1994, 1998, 2002], "format": "d", "title": null}},
            "y": {"field": "value", "type": "quantitative", "scale": {"domain": [-0.037, 0.188], "nice": false, "zero": false}, "axis": {"values": [-0.02, 0.04, 0.10, 0.16], "format": ".2f", "title": "Level p.a."}},
            "strokeDash": {"field": "series", "type": "nominal", "scale": {"domain": ["Data", "Fitted", "Error"], "range": [[1, 0], [2, 2], [1, 0]]}}
          }
        },
        {
          "mark": {"type": "line", "opacity": 0},
          "encoding": {
            "x": {"field": "t", "type": "quantitative", "scale": {"domain": [1969.75, 2003.2], "nice": false, "zero": false}, "axis": {"orient": "top", "labels": false, "values": [1974, 1978, 1982, 1986, 1990, 1994, 1998, 2002], "title": null}},
            "y": {"field": "value", "type": "quantitative", "scale": {"domain": [-0.037, 0.188], "nice": false, "zero": false}, "axis": {"orient": "right", "labels": false, "values": [-0.02, 0.04, 0.10, 0.16], "title": null}},
            "detail": {"field": "series", "type": "nominal"}
          }
        }
      ],
      "resolve": {"axis": {"x": "independent", "y": "independent"}}
    },
    {
      "title": "6-MONTH INTEREST RATE",
      "width": 266, "height": 105,
      "data": {"name": "m6"},
      "transform": [{"fold": ["Data", "Fitted", "Error"], "as": ["series", "value"]}],
      "layer": [
        {
          "mark": {"type": "line", "color": "black", "strokeWidth": 1.3, "clip": true},
          "encoding": {
            "x": {"field": "t", "type": "quantitative", "scale": {"domain": [1969.75, 2003.2], "nice": false, "zero": false}, "axis": {"values": [1974, 1978, 1982, 1986, 1990, 1994, 1998, 2002], "format": "d", "title": null}},
            "y": {"field": "value", "type": "quantitative", "scale": {"domain": [-0.037, 0.188], "nice": false, "zero": false}, "axis": {"values": [-0.02, 0.04, 0.10, 0.16], "format": ".2f", "title": "Level p.a."}},
            "strokeDash": {"field": "series", "type": "nominal", "scale": {"domain": ["Data", "Fitted", "Error"], "range": [[1, 0], [2, 2], [1, 0]]}}
          }
        },
        {
          "mark": {"type": "line", "opacity": 0},
          "encoding": {
            "x": {"field": "t", "type": "quantitative", "scale": {"domain": [1969.75, 2003.2], "nice": false, "zero": false}, "axis": {"orient": "top", "labels": false, "values": [1974, 1978, 1982, 1986, 1990, 1994, 1998, 2002], "title": null}},
            "y": {"field": "value", "type": "quantitative", "scale": {"domain": [-0.037, 0.188], "nice": false, "zero": false}, "axis": {"orient": "right", "labels": false, "values": [-0.02, 0.04, 0.10, 0.16], "title": null}},
            "detail": {"field": "series", "type": "nominal"}
          }
        }
      ],
      "resolve": {"axis": {"x": "independent", "y": "independent"}}
    },
    {
      "title": "1-YEAR INTEREST RATE",
      "width": 266, "height": 105,
      "data": {"name": "y1"},
      "transform": [{"fold": ["Data", "Fitted", "Error"], "as": ["series", "value"]}],
      "layer": [
        {
          "mark": {"type": "line", "color": "black", "strokeWidth": 1.3, "clip": true},
          "encoding": {
            "x": {"field": "t", "type": "quantitative", "scale": {"domain": [1969.75, 2003.2], "nice": false, "zero": false}, "axis": {"values": [1974, 1978, 1982, 1986, 1990, 1994, 1998, 2002], "format": "d", "title": null}},
            "y": {"field": "value", "type": "quantitative", "scale": {"domain": [-0.037, 0.188], "nice": false, "zero": false}, "axis": {"values": [-0.02, 0.04, 0.10, 0.16], "format": ".2f", "title": "Level p.a."}},
            "strokeDash": {"field": "series", "type": "nominal", "scale": {"domain": ["Data", "Fitted", "Error"], "range": [[1, 0], [2, 2], [1, 0]]}}
          }
        },
        {
          "mark": {"type": "line", "opacity": 0},
          "encoding": {
            "x": {"field": "t", "type": "quantitative", "scale": {"domain": [1969.75, 2003.2], "nice": false, "zero": false}, "axis": {"orient": "top", "labels": false, "values": [1974, 1978, 1982, 1986, 1990, 1994, 1998, 2002], "title": null}},
            "y": {"field": "value", "type": "quantitative", "scale": {"domain": [-0.037, 0.188], "nice": false, "zero": false}, "axis": {"orient": "right", "labels": false, "values": [-0.02, 0.04, 0.10, 0.16], "title": null}},
            "detail": {"field": "series", "type": "nominal"}
          }
        }
      ],
      "resolve": {"axis": {"x": "independent", "y": "independent"}}
    },
    {
      "title": "5-YEAR INTEREST RATE",
      "width": 266, "height": 105,
      "data": {"name": "y5"},
      "transform": [{"fold": ["Data", "Fitted", "Error"], "as": ["series", "value"]}],
      "layer": [
        {
          "mark": {"type": "line", "color": "black", "strokeWidth": 1.3, "clip": true},
          "encoding": {
            "x": {"field": "t", "type": "quantitative", "scale": {"domain": [1968.6, 2002.05], "nice": false, "zero": false}, "axis": {"values": [1974, 1978, 1982, 1986, 1990, 1994, 1998, 2002], "format": "d", "title": null}},
            "y": {"field": "value", "type": "quantitative", "scale": {"domain": [-0.037, 0.188], "nice": false, "zero": false}, "axis": {"values": [-0.02, 0.04, 0.10, 0.16], "format": ".2f", "title": "Level p.a."}},
            "strokeDash": {"field": "series", "type": "nominal", "scale": {"domain": ["Data", "Fitted", "Error"], "range": [[1, 0], [2, 2], [1, 0]]}}
          }
        },
        {
          "mark": {"type": "line", "opacity": 0},
          "encoding": {
            "x": {"field": "t", "type": "quantitative", "scale": {"domain": [1968.6, 2002.05], "nice": false, "zero": false}, "axis": {"orient": "top", "labels": false, "values": [1974, 1978, 1982, 1986, 1990, 1994, 1998, 2002], "title": null}},
            "y": {"field": "value", "type": "quantitative", "scale": {"domain": [-0.037, 0.188], "nice": false, "zero": false}, "axis": {"orient": "right", "labels": false, "values": [-0.02, 0.04, 0.10, 0.16], "title": null}},
            "detail": {"field": "series", "type": "nominal"}
          }
        }
      ],
      "resolve": {"axis": {"x": "independent", "y": "independent"}}
    },
    {
      "title": "7-YEAR INTEREST RATE",
      "width": 266, "height": 105,
      "data": {"name": "y7"},
      "transform": [{"fold": ["Data", "Fitted", "Error"], "as": ["series", "value"]}],
      "layer": [
        {
          "mark": {"type": "line", "color": "black", "strokeWidth": 1.3, "clip": true},
          "encoding": {
            "x": {"field": "t", "type": "quantitative", "scale": {"domain": [1969.75, 2003.2], "nice": false, "zero": false}, "axis": {"values": [1974, 1978, 1982, 1986, 1990, 1994, 1998, 2002], "format": "d", "title": null}},
            "y": {"field": "value", "type": "quantitative", "scale": {"domain": [-0.0215, 0.2035], "nice": false, "zero": false}, "axis": {"values": [0.0, 0.06, 0.12, 0.18], "format": ".2f", "title": "Level p.a."}},
            "strokeDash": {"field": "series", "type": "nominal", "scale": {"domain": ["Data", "Fitted", "Error"], "range": [[1, 0], [2, 2], [1, 0]]}}
          }
        },
        {
          "mark": {"type": "line", "opacity": 0},
          "encoding": {
            "x": {"field": "t", "type": "quantitative", "scale": {"domain": [1969.75, 2003.2], "nice": false, "zero": false}, "axis": {"orient": "top", "labels": false, "values": [1974, 1978, 1982, 1986, 1990, 1994, 1998, 2002], "title": null}},
            "y": {"field": "value", "type": "quantitative", "scale": {"domain": [-0.0215, 0.2035], "nice": false, "zero": false}, "axis": {"orient": "right", "labels": false, "values": [0.0, 0.06, 0.12, 0.18], "title": null}},
            "detail": {"field": "series", "type": "nominal"}
          }
        }
      ],
      "resolve": {"axis": {"x": "independent", "y": "independent"}}
    },
    {
      "title": "10-YEAR INTEREST RATE",
      "width": 266, "height": 105,
      "data": {"name": "y10"},
      "transform": [{"fold": ["Data", "Fitted", "Error"], "as": ["series", "value"]}],
      "layer": [
        {
          "mark": {"type": "line", "color": "black", "strokeWidth": 1.3, "clip": true},
          "encoding": {
            "x": {"field": "t", "type": "quantitative", "scale": {"domain": [1968.6, 2002.05], "nice": false, "zero": false}, "axis": {"values": [1974, 1978, 1982, 1986, 1990, 1994, 1998, 2002], "format": "d", "title": null}},
            "y": {"field": "value", "type": "quantitative", "scale": {"domain": [-0.0215, 0.2035], "nice": false, "zero": false}, "axis": {"values": [0.0, 0.06, 0.12, 0.18], "format": ".2f", "title": "Level p.a."}},
            "strokeDash": {"field": "series", "type": "nominal", "scale": {"domain": ["Data", "Fitted", "Error"], "range": [[1, 0], [2, 2], [1, 0]]}}
          }
        },
        {
          "mark": {"type": "line", "opacity": 0},
          "encoding": {
            "x": {"field": "t", "type": "quantitative", "scale": {"domain": [1968.6, 2002.05], "nice": false, "zero": false}, "axis": {"orient": "top", "labels": false, "values": [1974, 1978, 1982, 1986, 1990, 1994, 1998, 2002], "title": null}},
            "y": {"field": "value", "type": "quantitative", "scale": {"domain": [-0.0215, 0.2035], "nice": false, "zero": false}, "axis": {"orient": "right", "labels": false, "values": [0.0, 0.06, 0.12, 0.18], "title": null}},
            "detail": {"field": "series", "type": "nominal"}
          }
        }
      ],
      "resolve": {"axis": {"x": "independent", "y": "independent"}}
    }
  ],
  "config": {
    "view": {"stroke": "black", "strokeWidth": 2},
    "font": "Liberation Sans",
    "axis": {
      "grid": false,
      "domain": false,
      "ticks": true,
      "tickSize": -3,
      "tickColor": "black",
      "tickWidth": 1,
      "labelFont": "Liberation Sans",
      "labelFontWeight": "bold",
      "labelFontSize": 9.5,
      "labelColor": "black",
      "labelOverlap": false,
      "labelFlush": false,
      "titleFont": "Liberation Sans",
      "titleFontWeight": "bold",
      "titleFontSize": 10,
      "titleColor": "black"
    },
    "axisX": {"labelPadding": 7},
    "axisY": {"labelAngle": -90, "labelAlign": "center", "labelBaseline": "bottom", "labelPadding": 5, "titlePadding": 2},
    "title": {"font": "DejaVu Serif", "fontSize": 11.5, "fontWeight": "normal", "color": "black", "anchor": "middle", "frame": "group", "offset": 15},
    "legend": {
      "orient": "top-right",
      "offset": 4,
      "padding": 2,
      "strokeColor": "black",
      "fillColor": "white",
      "title": null,
      "symbolType": "M-2.1,0H2.1",
      "symbolSize": 49,
      "symbolOffset": 5,
      "symbolStrokeWidth": 1,
      "symbolStrokeColor": "black",
      "labelFont": "Liberation Sans",
      "labelFontWeight": "bold",
      "labelFontSize": 8,
      "labelColor": "black",
      "labelOffset": 8,
      "rowPadding": 0
    }
  }
}
